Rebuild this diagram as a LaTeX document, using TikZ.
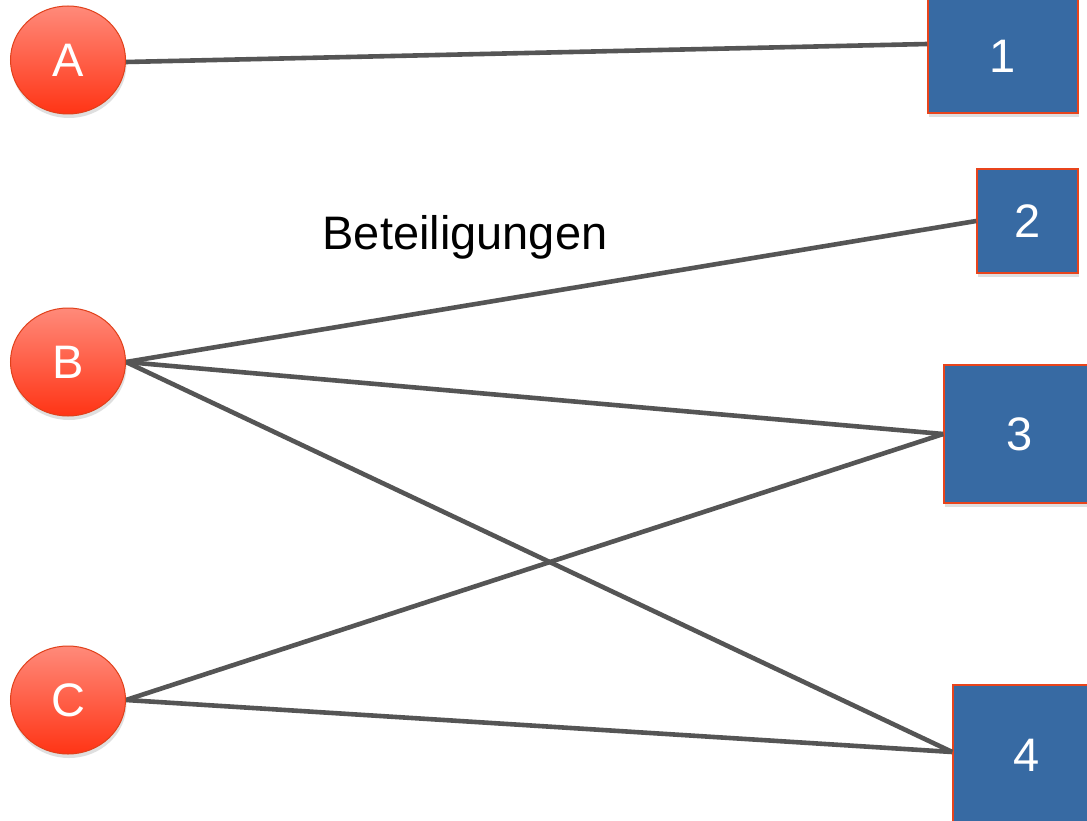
\documentclass[tikz,border=0pt]{standalone}
\usepackage{fontspec}
\setmainfont{Liberation Sans}
\usetikzlibrary{shapes.geometric,shadows}
\definecolor{boxblue}{HTML}{376AA3}
\definecolor{boxedge}{HTML}{E8441C}
\definecolor{ctop}{HTML}{FF8A7A}
\definecolor{cbot}{HTML}{FF3415}
\definecolor{cedge}{HTML}{E0401A}
\definecolor{wire}{HTML}{555555}
\tikzset{
  person/.style={ellipse, minimum width=115pt, minimum height=108pt, inner sep=0pt,
    top color=ctop, bottom color=cbot, draw=cedge, line width=1pt, text=white,
    font=\fontsize{47}{50}\selectfont,
    drop shadow={opacity=0.25, shadow xshift=1pt, shadow yshift=-4pt}},
  firm/.style={rectangle, inner sep=0pt, fill=boxblue, draw=boxedge, line width=1.5pt,
    text=white, font=\fontsize{47}{50}\selectfont,
    drop shadow={opacity=0.25, shadow xshift=1pt, shadow yshift=-4pt}},
  link/.style={draw=wire, line width=4.6pt},
  lbl/.style={font=\fontsize{47}{50}\selectfont, text=black}
}
\begin{document}
\begin{tikzpicture}[x=1pt, y=-1pt]
\useasboundingbox (0,0) rectangle (1087,821);
\clip (0,0) rectangle (1087,821);
\fill[white] (0,0) rectangle (1087,821);
% firms
\node[firm, minimum width=150pt, minimum height=114pt] (f1) at (1003,56) {1};
\node[firm, minimum width=101pt, minimum height=104pt] (f2) at (1027.5,221) {2};
\node[firm, minimum width=152pt, minimum height=138pt] (f3) at (1020,434) {3};
\node[firm, minimum width=148pt, minimum height=140pt] (f4) at (1027,755) {4};
% links (below persons)
\coordinate (p1) at ([yshift=12pt]f1.west);
\coordinate (pA) at (126,62);
\coordinate (pB) at (126,362);
\coordinate (pC) at (126,700);
\draw[link] (pA) -- (p1);
\draw[link] (pB) -- (f2.west);
\draw[link] (pB) -- (f3.west);
\draw[link] (pB) -- ([yshift=3pt]f4.west);
\draw[link] (pC) -- (f3.west);
\draw[link] (pC) -- ([yshift=3pt]f4.west);
% persons
\node[person] (A) at (68,60) {A};
\node[person] (B) at (68,362) {B};
\node[person] (C) at (68,700) {C};
% label
\node[lbl] (t) at (465,237) {Beteiligungen};
\end{tikzpicture}
\end{document}
